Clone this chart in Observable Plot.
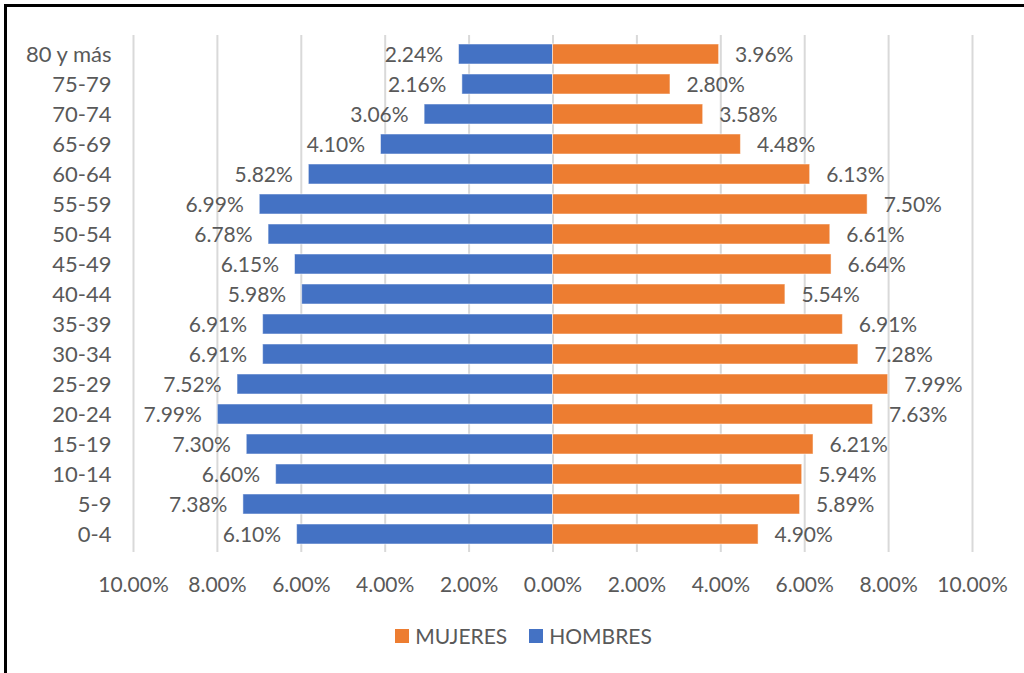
<!DOCTYPE html>
<html>
<head>
<meta charset="utf-8">
<script src="https://cdn.jsdelivr.net/npm/d3@7"></script>
<script src="https://cdn.jsdelivr.net/npm/@observablehq/plot@0.6"></script>
<style>
  html, body { margin: 0; padding: 0; background: #fff; }
  #frame {
    position: absolute; left: 4px; top: 4px; width: 1020px; height: 669px;
    border-top: 3px solid #000; border-left: 3px solid #000; box-sizing: border-box;
  }
  #chart { position: absolute; left: 0; top: 0; }
  #legend {
    position: absolute; left: 8px; top: 616px; width: 1017px;
    display: flex; justify-content: center; gap: 22px;
    font-family: Lato, "Open Sans", sans-serif; font-size: 21px; color: #595959;
  }
  .item { display: flex; align-items: center; gap: 6px; }
  .sw { width: 14px; height: 14px; display: inline-block; }
</style>
</head>
<body>
<div id="frame">
  <div id="chart"></div>
  <div id="legend"></div>
</div>
<script>
const ages = ["80 y más","75-79","70-74","65-69","60-64","55-59","50-54","45-49","40-44","35-39","30-34","25-29","20-24","15-19","10-14","5-9","0-4"];
const hombres = [2.24,2.16,3.06,4.10,5.82,6.99,6.78,6.15,5.98,6.91,6.91,7.52,7.99,7.30,6.60,7.38,6.10];
const mujeres = [3.96,2.80,3.58,4.48,6.13,7.50,6.61,6.64,5.54,6.91,7.28,7.99,7.63,6.21,5.94,5.89,4.90];
const xTicks = [-10,-8,-6,-4,-2,0,2,4,6,8,10];
const seriesNames = ["MUJERES","HOMBRES"];
const seriesColors = ["#ED7D31","#4472C4"];

const rowsH = ages.map((a,i) => ({age: a, v: -hombres[i], label: hombres[i].toFixed(2) + "%"}));
const rowsM = ages.map((a,i) => ({age: a, v: mujeres[i], label: mujeres[i].toFixed(2) + "%"}));
const fmt = d => Math.abs(d).toFixed(2) + "%";
const textColor = "#595959";

const chart = Plot.plot({
  width: 1017,
  height: 600,
  marginLeft: 126,
  marginRight: 52,
  marginTop: 28,
  marginBottom: 55,
  style: {fontFamily: "Lato, 'Open Sans', sans-serif", fontSize: "21px", color: textColor, background: "transparent"},
  x: {domain: [-10, 10]},
  y: {domain: ages, paddingInner: 0.34, paddingOuter: 0.12},
  marks: [
    Plot.gridX(xTicks, {stroke: "#d9d9d9", strokeWidth: 2, strokeOpacity: 1}),
    Plot.barX(rowsH, {x1: 0, x2: "v", y: "age", fill: seriesColors[1], stroke: "#fff", strokeOpacity: 0.5, strokeWidth: 1}),
    Plot.barX(rowsM, {x1: 0, x2: "v", y: "age", fill: seriesColors[0], stroke: "#fff", strokeOpacity: 0.5, strokeWidth: 1}),
    Plot.text(rowsH, {x: "v", y: "age", text: "label", textAnchor: "end", dx: -16, dy: 1, fill: textColor, fontSize: 21}),
    Plot.text(rowsM, {x: "v", y: "age", text: "label", textAnchor: "start", dx: 16, dy: 1, fill: textColor, fontSize: 21}),
    Plot.axisX({ticks: xTicks, tickFormat: fmt, tickSize: 0, tickPadding: 25, fontSize: 21, fill: textColor, label: null}),
    Plot.axisY({tickSize: 0, tickPadding: 22, fontSize: 22, fill: textColor, label: null})
  ]
});
document.getElementById("chart").appendChild(chart);

const legend = document.getElementById("legend");
seriesNames.forEach((n, i) => {
  const it = document.createElement("div");
  it.className = "item";
  const sw = document.createElement("span");
  sw.className = "sw";
  sw.style.background = seriesColors[i];
  const t = document.createElement("span");
  t.textContent = n;
  it.appendChild(sw); it.appendChild(t);
  legend.appendChild(it);
});
</script>
</body>
</html>
